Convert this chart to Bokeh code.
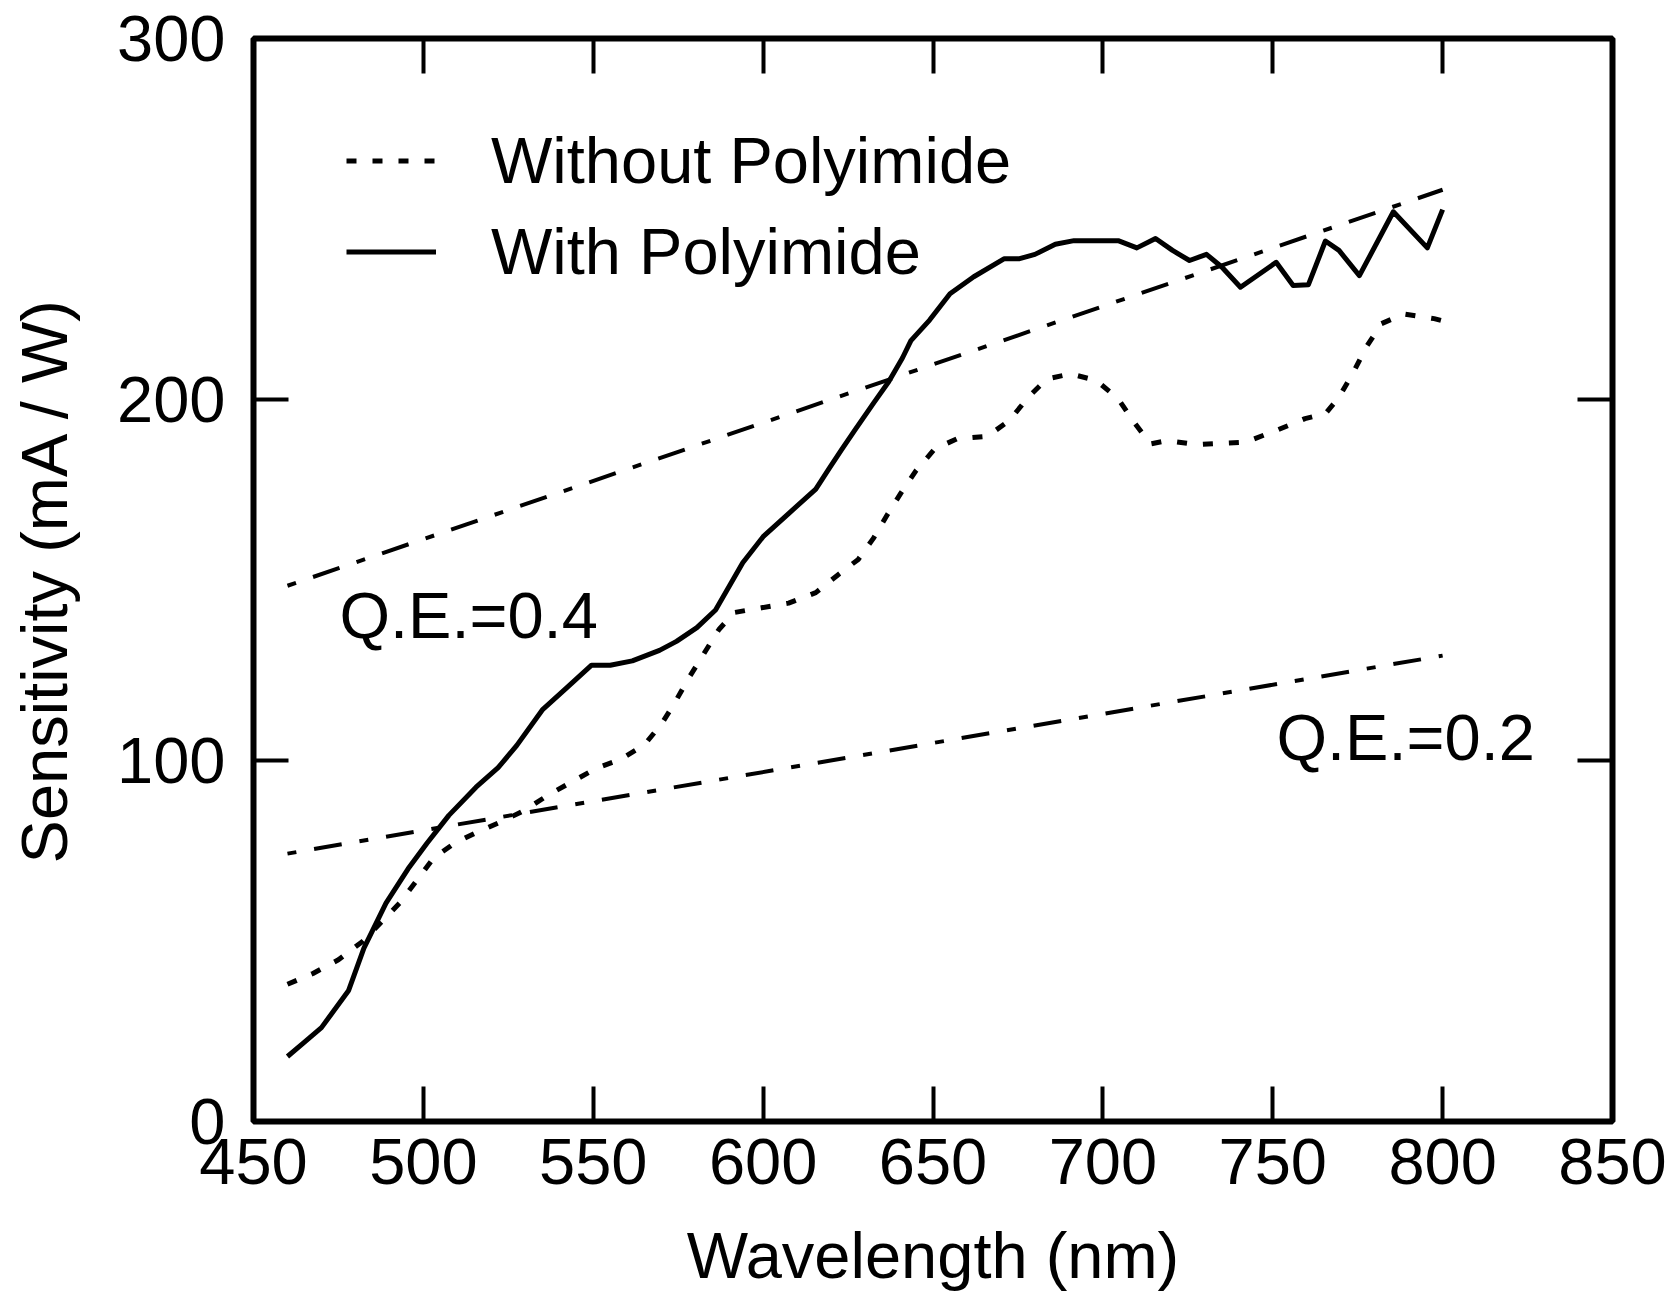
from bokeh.plotting import figure
from bokeh.models import Range1d, LinearAxis, FixedTicker, Legend, LegendItem, Label
from bokeh.embed import file_html
from bokeh.resources import INLINE

# Photodiode spectral sensitivity, with and without a polyimide layer
wl_with = [460, 465, 470, 478, 482.5, 489, 495.5, 501, 507.5, 515.5, 522, 527.5,
           535, 542, 549.5, 555, 561.5, 569.5, 574.5, 580.5, 586, 594, 600, 607.5,
           615.5, 619.5, 623, 627, 632.5, 637, 641, 643.5, 649, 655, 662, 671,
           675.5, 680, 686, 691.5, 704.5, 710, 715.5, 720.5, 725.5, 730.5, 735,
           740.5, 751, 756, 760.5, 765.5, 769.5, 775.5, 785.5, 795.5, 800]
sens_with = [18, 22, 26, 36.3, 48, 60.5, 70, 77, 84.8, 92.6, 98, 104.2,
             114, 120, 126.4, 126.4, 127.6, 130.5, 133, 136.8, 141.7, 154.8, 162, 168.4,
             175.2, 181, 186, 191.5, 199, 205, 211.5, 216.3, 222, 229.3, 234, 239,
             239, 240.2, 243, 244, 244, 242, 244.6, 241.3, 238.5, 240.2, 236.7,
             231.1, 238, 231.6, 231.8, 243.9, 241.3, 234.3, 252, 242, 252.6]

wl_without = [460, 467.5, 475, 482, 488, 493, 498.5, 503, 509, 515.5, 523.5, 530,
              537, 544.5, 551, 558, 565, 570, 574, 578, 582.5, 587, 591.5, 599.5,
              607.5, 615.5, 622, 628, 632.5, 636.5, 640.5, 645, 650.5, 657, 666,
              672.5, 678, 683.5, 690.5, 698, 704.5, 709.5, 714, 719, 727.5, 742,
              751, 759.5, 765.5, 769.5, 774, 777.5, 782, 788.5, 797.5, 800]
sens_without = [38, 41, 44.8, 49.8, 55.6, 60.5, 67.3, 73, 77, 80, 83.3, 86.3,
                90.6, 94.5, 97.9, 100.3, 104.3, 110, 116, 122.7, 129.5, 136.3, 141, 142.3,
                143.6, 146.5, 151.4, 155.7, 161.6, 168, 174, 180.3, 186.3, 189.1, 189.8,
                194.2, 200.6, 205.7, 207.1, 205.3, 200.2, 193.3, 187.7, 188.6, 187.5, 188.2,
                191.4, 194.7, 196.1, 200.6, 208, 214.5, 221, 223.7, 222.4, 221.8]

# Constant quantum-efficiency reference lines: S [mA/W] = QE * wavelength [nm] / 1.23984
qe_levels = [0.4, 0.2]
qe_wl = [460, 800]

x_ticks = [450, 500, 550, 600, 650, 700, 750, 800, 850]
y_ticks = [0, 100, 200, 300]

FONT = "Liberation Sans"
FS = "65px"

p = figure(frame_width=1359, frame_height=1083,
           x_range=Range1d(450, 850), y_range=Range1d(0, 300),
           output_backend="svg", toolbar_location=None,
           min_border_left=253, min_border_right=62,
           min_border_top=38, min_border_bottom=187)

p.background_fill_color = "white"
p.border_fill_color = "white"
p.outline_line_color = "black"
p.outline_line_width = 6
p.xgrid.visible = False
p.ygrid.visible = False


def style_axis(ax, ticks, labels=True):
    ax.ticker = FixedTicker(ticks=ticks)
    ax.axis_line_color = None
    ax.major_tick_in = 35
    ax.major_tick_out = 0
    ax.major_tick_line_width = 4
    ax.major_tick_line_color = "black"
    ax.minor_tick_line_color = None
    if labels:
        ax.major_label_text_font = FONT
        ax.major_label_text_font_size = FS
        ax.major_label_text_color = "black"
    else:
        ax.major_label_overrides = {t: "" for t in ticks}
        ax.major_label_standoff = 0


style_axis(p.xaxis[0], x_ticks)
style_axis(p.yaxis[0], y_ticks)
p.xaxis[0].major_label_standoff = 17
p.yaxis[0].major_label_standoff = 28
p.xaxis[0].axis_label = "Wavelength (nm)"
p.yaxis[0].axis_label = "Sensitivity (mA / W)"
for ax in (p.xaxis[0], p.yaxis[0]):
    ax.axis_label_text_font = FONT
    ax.axis_label_text_font_size = FS
    ax.axis_label_text_font_style = "normal"
    ax.axis_label_text_color = "black"
p.xaxis[0].axis_label_standoff = 32
p.yaxis[0].axis_label_standoff = 33

top_ax = LinearAxis()
style_axis(top_ax, x_ticks, labels=False)
p.add_layout(top_ax, "above")
right_ax = LinearAxis()
style_axis(right_ax, y_ticks, labels=False)
p.add_layout(right_ax, "right")

# Reference lines for constant quantum efficiency
for qe in qe_levels:
    p.line(qe_wl, [qe * w / 1.23984 for w in qe_wl], line_color="black",
           line_width=4, line_dash="9 18 28 18")

r_without = p.line(wl_without, sens_without, line_color="black", line_width=5,
                   line_dash="10 16")
r_with = p.line(wl_with, sens_with, line_color="black", line_width=5,
                line_join="round")

legend = Legend(items=[LegendItem(label="Without Polyimide", renderers=[r_without]),
                       LegendItem(label="With Polyimide", renderers=[r_with])],
                location=(93, 832), orientation="vertical",
                label_text_font=FONT, label_text_font_size=FS,
                label_text_color="black",
                glyph_width=90, glyph_height=75, label_standoff=55,
                label_height=75, spacing=16, padding=0, margin=0,
                border_line_color=None, background_fill_alpha=0)
p.add_layout(legend, "center")

p.add_layout(Label(x=475.3, y=140.3, text="Q.E.=0.4", text_font=FONT,
                   text_font_size=FS, text_color="black",
                   text_align="left", text_baseline="alphabetic"))
p.add_layout(Label(x=751.1, y=106.5, text="Q.E.=0.2", text_font=FONT,
                   text_font_size=FS, text_color="black",
                   text_align="left", text_baseline="alphabetic"))

open("out.html", "w").write(file_html(p, INLINE))
